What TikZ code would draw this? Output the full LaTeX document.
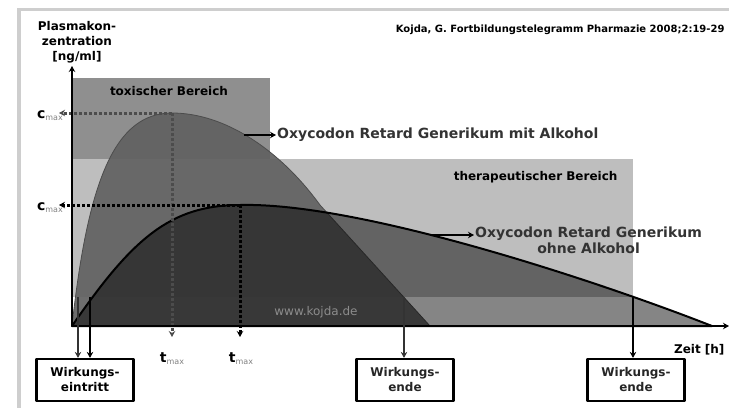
\documentclass[tikz,border=0pt]{standalone}
\usepackage{fontspec}
\setmainfont{DejaVu Sans}
\usetikzlibrary{arrows.meta}
\definecolor{rahmen}{HTML}{CECECE}
\definecolor{toxisch}{HTML}{8F8F8F}
\definecolor{therap}{HTML}{BEBEBE}
\newcommand{\maxwert}[1]{{\fontsize{14}{14}\selectfont\bfseries #1}{\fontsize{8}{8}\selectfont\mdseries\color{black!50}\raisebox{-.5ex}{max}}}
\begin{document}
\begin{tikzpicture}[x=1pt,y=-1pt,>={Stealth[length=6pt,width=6.5pt]},line join=round,font=\fontsize{12}{15}\selectfont\bfseries]
	\tikzset{
		kasten/.style={draw,line width=2.2pt,fill=white,align=center,minimum width=97pt,minimum height=42pt,inner sep=1pt},
		punkte/.style={line width=3pt,dash pattern=on 3pt off 2pt},
		pfeil/.style={->,line width=1.8pt},
		etikett/.style={font=\fontsize{14}{16}\selectfont\bfseries,text=black!80,inner sep=1pt},
	}
	\useasboundingbox (0,0) rectangle (729,408);
	% rahmen
	\fill[rahmen] (17,8) rectangle (729,11);
	\fill[rahmen] (17,8) rectangle (21,408);
	% bereiche
	\fill[toxisch] (72,78) rectangle (270,159);
	\fill[therap] (72,159) rectangle (633,297);
	\node (tox) at (169,91) {toxischer Bereich};
	\node[anchor=east] (ther) at (621,177) {therapeutischer Bereich};
	% punkte
	\path (72,326)coordinate (O) (72,66)coordinate (Y) (729,326)coordinate (X)
		(172,113)coordinate (A) (240,205)coordinate (B)
		(430,326)coordinate (A0) (712,326)coordinate (B0);
	% mit Alkohol
	\draw[black!70,line width=.8pt,fill=black!62,fill opacity=.92] (O) .. controls (88,180) and (115,113) .. (A) .. controls (225,113) and (280,150) .. (320,205) -- (A0) -- cycle;
	% ohne Alkohol
	\draw[line width=2pt,fill=black,fill opacity=.48] (O) .. controls (132,239) and (170,205) .. (B) .. controls (360,202) and (600,282) .. (B0) -- cycle;
	\node[font=\fontsize{12}{12}\selectfont,text=black!45] (www) at (316,312) {www.kojda.de};
	% cmax, tmax
	\node (cA) at (50,116) {\maxwert{c}};
	\node (cB) at (50,208) {\maxwert{c}};
	\node (tA) at (172,359) {\maxwert{t}};
	\node (tB) at (241,359) {\maxwert{t}};
	\path (59,113)coordinate (cA0) (59,205)coordinate (cB0) (172,337)coordinate (tA0) (240,337)coordinate (tB0);
	\draw[punkte,->,black!70] (A) -- (cA0);
	\draw[punkte,->,black!70] (A) -- (tA0);
	\draw[punkte,->] (B) -- (cB0);
	\draw[punkte,->] (B) -- (tB0);
	% achsen
	\draw[<->,line width=2.4pt] (Y) -- (O) -- (X);
	\node[align=center] (ylab) at (77,42) {Plasmakon-\\zentration\\ {[ng/ml]}};
	\node[anchor=east] (xlab) at (728,350) {Zeit [h]};
	\node[anchor=east,font=\fontsize{10}{12}\selectfont\bfseries] (quelle) at (728,30) {Kojda, G. Fortbildungstelegramm Pharmazie 2008;2:19-29};
	% kurven beschriften
	\path (244,135)coordinate (mA) (430,235)coordinate (mB);
	\node[etikett,anchor=west] (mit) at (276,135) {Oxycodon Retard Generikum mit Alkohol};
	\draw[->,line width=1.6pt] (mA) -- (mit);
	\node[etikett,anchor=north west,align=center] (ohne) at (474,226) {Oxycodon Retard Generikum\\ohne Alkohol};
	\draw[->,line width=1.6pt] (mB) -- (mB-|ohne.west);
	% wirkung
	\node[kasten] (ein) at (85,380) {Wirkungs-\\eintritt};
	\node[kasten,text=black!85] (endeA) at (405,380) {Wirkungs-\\ende};
	\node[kasten,text=black!85] (endeB) at (636,380) {Wirkungs-\\ende};
	\path (78,297)coordinate (sA) (90,297)coordinate (sB) (404,297)coordinate (eA) (633,297)coordinate (eB);
	\draw[pfeil,black!80] (sA) -- (sA|-ein.north);
	\draw[pfeil] (sB) -- (sB|-ein.north);
	\draw[pfeil,black!80] (eA) -- (eA|-endeA.north);
	\draw[pfeil] (eB) -- (eB|-endeB.north);
\end{tikzpicture}
\end{document}
